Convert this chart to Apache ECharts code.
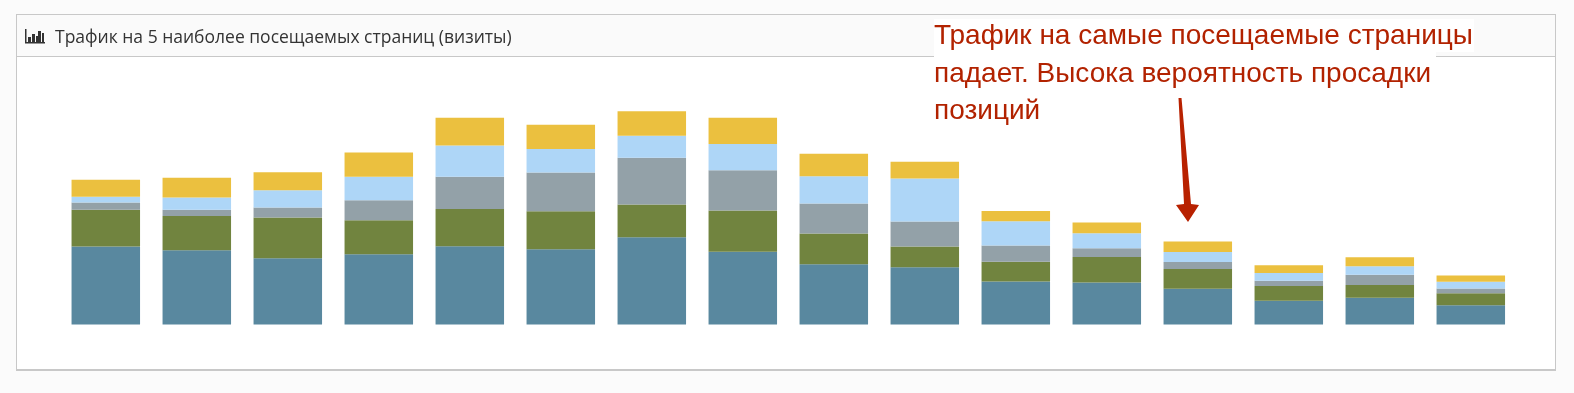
<!DOCTYPE html>
<html>
<head>
<meta charset="utf-8">
<style>html,body{margin:0;padding:0;background:#fbfbfb}#c{width:1574px;height:393px}</style>
<script src="https://cdn.jsdelivr.net/npm/echarts@6/dist/echarts.min.js"></script>
</head>
<body>
<div id="c"></div>
<script>
const categories = ['1','2','3','4','5','6','7','8','9','10','11','12','13','14','15','16'];
const page1 = [77.7,74,66,70,78,75,87,72.7,60,57,43,42,35.7,23.7,26.7,19.3];
const page2 = [36.7,34.3,40.7,34,37.3,38,32.7,41,30.7,20.7,19.7,25.3,19.7,14.7,12.7,12];
const page3 = [7.3,6.3,10,20,32,38.7,46.7,40.3,30,25,16,8.7,7,5.3,10.3,4.7];
const page4 = [5.7,12,17.3,23.3,31.3,23.3,22,26,27.3,43,24.3,15,10,7.7,8.3,6.7];
const page5 = [17,19.7,18,24.3,27.7,24.3,24.3,26.3,22.3,16.7,10.3,10.7,10.3,7.7,9,6.3];
const seriesNames = ['Страница 1','Страница 2','Страница 3','Страница 4','Страница 5'];
const colors = ['#59889f','#71843f','#93a1a8','#aed6f7','#ebc03f'];
const titleText = 'Трафик на 5 наиболее посещаемых страниц (визиты)';
const noteLines = ['Трафик на самые посещаемые страницы','падает. Высока вероятность просадки','позиций'];

const chart = echarts.init(document.getElementById('c'));
const rect = (x,y,w,h,fill,z) => ({type:'rect',silent:true,z:z,shape:{x,y,width:w,height:h},style:{fill}});
const iconBars = [[28,37,3,5],[32,34,3,8],[36,36,2,6],[38,31,3,11],[42,33,2,9]];
chart.setOption({
  animation:false,
  backgroundColor:'#fbfbfb',
  title:{text:titleText,left:55,top:27,padding:0,textStyle:{fontFamily:'Open Sans',fontSize:17.5,fontWeight:'normal',color:'#333',lineHeight:22}},
  grid:{left:60.3,width:1456,top:104,height:220.5},
  xAxis:{type:'category',data:categories,show:false},
  yAxis:{type:'value',min:0,max:220,show:false},
  series:[page1,page2,page3,page4,page5].map((d,i)=>({
    type:'bar',name:seriesNames[i],stack:'t',data:d,barWidth:68.5,
    itemStyle:{color:colors[i],borderWidth:0}
  })),
  graphic:{elements:[
    rect(16,14,1540,357,'#c8c8c8',-10),
    rect(17,15,1538,354,'#ffffff',-9),
    rect(17,15,1538,41,'#fafafa',-8),
    rect(17,56,1538,1,'#c8c8c8',-8),
    rect(25,29,1.5,14,'#333',-7),
    rect(25,42,20,1.5,'#333',-7),
    ...iconBars.map(b=>rect(b[0],b[1],b[2],b[3],'#333',-7)),
    rect(934,19,540,33,'#ffffff',50),
    rect(934,52,502,8,'#ffffff',50),
    {type:'text',silent:true,z:60,x:934,y:18,style:{text:noteLines.join('\n'),fontFamily:'Liberation Sans',fontSize:28,lineHeight:37.5,fill:'#b22200'}},
    {type:'polygon',silent:true,z:60,shape:{points:[[1178.5,98],[1181.5,98],[1191,204],[1199,205],[1188,222],[1176,205],[1184,204]]},style:{fill:'#b82100'}}
  ]}
});
</script>
</body>
</html>
